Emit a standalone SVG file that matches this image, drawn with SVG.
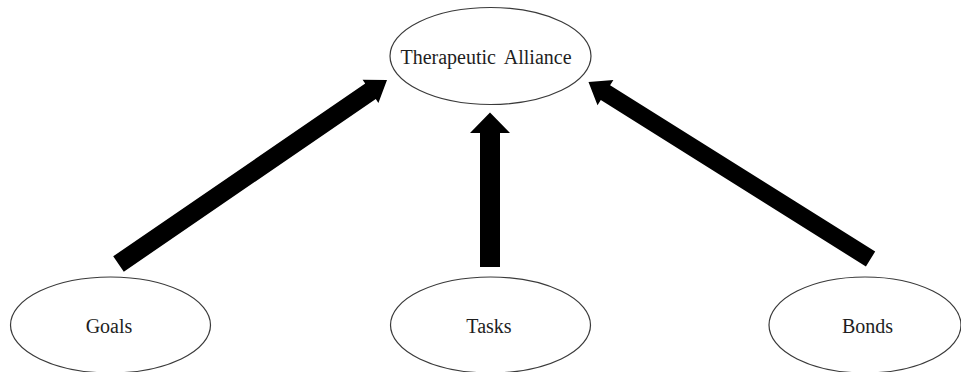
<svg xmlns="http://www.w3.org/2000/svg" width="961" height="372" viewBox="0 0 961 372">
<style>
.node ellipse{fill:#fff;stroke:#3a3a3a;stroke-width:1.2}
.node text{font-family:"Liberation Serif","Times New Roman",serif;font-size:20px;fill:#1e1e1e;text-anchor:middle}
.conn polygon{fill:#000;stroke:none}
</style>
<rect width="961" height="372" fill="#fff"/>
<g id="node-alliance" class="node">
<ellipse cx="490.5" cy="56" rx="100.5" ry="48.5"/>
<text x="486" y="63.5" word-spacing="4">Therapeutic Alliance</text>
</g>
<g id="node-goals" class="node">
<ellipse cx="110.5" cy="325" rx="100" ry="48"/>
<text x="109" y="333">Goals</text>
</g>
<g id="node-tasks" class="node">
<ellipse cx="490.5" cy="325" rx="100" ry="48"/>
<text x="489" y="333">Tasks</text>
</g>
<g id="node-bonds" class="node">
<ellipse cx="865" cy="325" rx="96" ry="48"/>
<text x="867.5" y="333">Bonds</text>
</g>
<g id="connectors" class="conn">
<polygon points="113.2,256.3 365.2,83.6 362.6,79.8 387,80 378.4,102.9 375.8,99 123.8,271.7"/>
<polygon points="480,267 480,133 470,133 490,112.5 510,133 500,133 500,267"/>
<polygon points="875.2,251.5 610.1,85.2 613.4,79.9 588.5,82 597.5,105.3 600.8,100.1 865.9,266.5"/>
</g>
</svg>
